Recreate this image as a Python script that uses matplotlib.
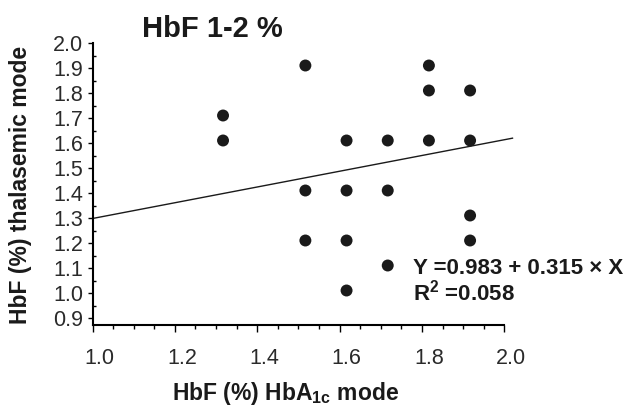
import matplotlib
matplotlib.use("Agg")
import matplotlib.pyplot as plt
import numpy as np
from matplotlib.transforms import ScaledTranslation
from matplotlib.ticker import MultipleLocator

plt.rcParams['font.family'] = ['Liberation Sans', 'DejaVu Sans']
plt.rcParams['mathtext.fontset'] = 'custom'
plt.rcParams['mathtext.rm'] = 'Liberation Sans:bold'
plt.rcParams['mathtext.it'] = 'Liberation Sans:bold'
plt.rcParams['mathtext.bf'] = 'Liberation Sans:bold'

# data (HbA1c mode vs thalasemic mode)
hba1c = [1.317, 1.317,
         1.517, 1.517, 1.517,
         1.617, 1.617, 1.617, 1.617,
         1.717, 1.717, 1.717,
         1.817, 1.817, 1.817,
         1.917, 1.917, 1.917, 1.917]
thal = [1.71, 1.61,
        1.91, 1.41, 1.21,
        1.61, 1.41, 1.21, 1.01,
        1.61, 1.41, 1.11,
        1.91, 1.81, 1.61,
        1.81, 1.61, 1.31, 1.21]

# regression from the figure
fit_intercept = 0.983
fit_slope = 0.315
fit_range = [1.0, 2.02]

xticks = [1.0, 1.2, 1.4, 1.6, 1.8, 2.0]
yticks = [0.9, 1.0, 1.1, 1.2, 1.3, 1.4, 1.5, 1.6, 1.7, 1.8, 1.9, 2.0]

fig = plt.figure(figsize=(6.37, 4.07), dpi=100)
ax = fig.add_axes([92.5/637, (407-325)/407, 420/637, 282/407])

ax.scatter(hba1c, thal, s=74, color='#1a1a1a', edgecolors='none', zorder=3, clip_on=False)

fx = np.array(fit_range)
ax.plot(fx, fit_intercept + fit_slope*fx, color='#1a1a1a', lw=1.0, clip_on=False)

ax.set_xlim(1.0, 2.02)
ax.set_ylim(0.872, 2.0)

for s in ['top', 'right']:
    ax.spines[s].set_visible(False)
ax.spines['left'].set_linewidth(1.5)
ax.spines['bottom'].set_linewidth(1.5)
ax.spines['bottom'].set_bounds(1.0, 2.0)

ax.set_xticks(xticks)
ax.set_xticklabels(['%.1f' % v for v in xticks])
ax.set_yticks(yticks)
ax.set_yticklabels(['%.1f' % v for v in yticks])
ax.xaxis.set_minor_locator(MultipleLocator(0.05))
ax.yaxis.set_minor_locator(MultipleLocator(0.05))

ax.tick_params(axis='x', which='major', direction='out', length=5, width=1,
               pad=11.5, labelsize=15.5, labelcolor='#2a2a2a')
ax.tick_params(axis='x', which='minor', direction='out', length=3, width=1)
ax.tick_params(axis='y', which='major', direction='out', length=3.5, width=1,
               pad=3.2, labelsize=15.5, labelcolor='#2a2a2a')
ax.tick_params(axis='y', which='minor', direction='in', length=2, width=1)

# labels sit a bit to the right of their ticks in the original
off = ScaledTranslation(0.07, 0, fig.dpi_scale_trans)
for lab in ax.get_xticklabels():
    lab.set_transform(lab.get_transform() + off)

fig.text(212/637, 1-29/407, 'HbF 1-2 %', fontsize=21, fontweight='bold',
         ha='center', va='center', color='#1a1a1a')
fig.text(21/637, 1-185/407, 'HbF (%) thalasemic mode', fontsize=16.5, fontweight='bold',
         rotation=90, ha='center', va='center', color='#1a1a1a')
fig.text(286/637, 7/407, r'HbF (%) HbA$_{1c}$ mode', fontsize=16.5, fontweight='bold',
         ha='center', va='baseline', color='#1a1a1a')

fig.text(413/637, (407-274)/407, u'Y =0.983 + 0.315 \u00d7 X', fontsize=16,
         fontweight='bold', ha='left', va='baseline', color='#1a1a1a')
fig.text(413/637, (407-300)/407, r'R$^{2}$ =0.058', fontsize=16,
         fontweight='bold', ha='left', va='baseline', color='#1a1a1a')

fig.savefig('out.png', dpi=100)
